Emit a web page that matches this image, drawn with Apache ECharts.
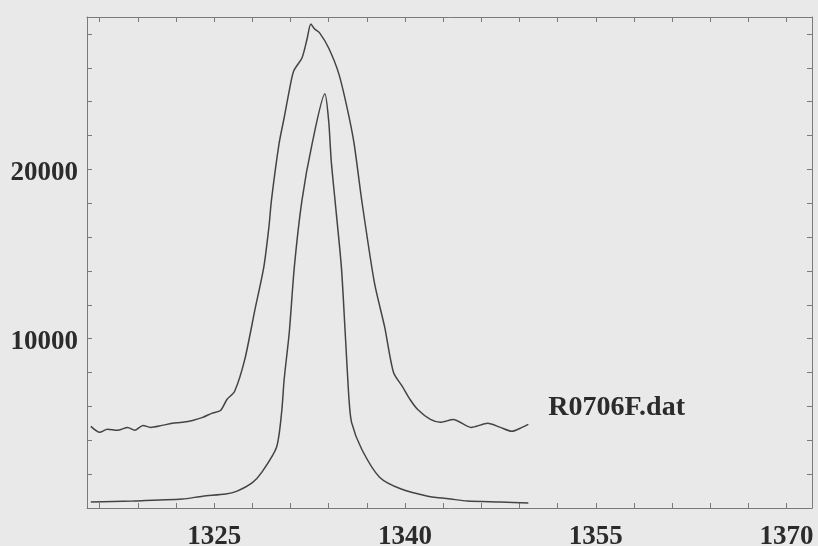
<!DOCTYPE html>
<html>
<head>
<meta charset="utf-8">
<script src="https://cdn.jsdelivr.net/npm/echarts@6/dist/echarts.min.js"></script>
<style>
  html, body { margin: 0; padding: 0; background: #e9e9e9; }
  #chart { width: 818px; height: 546px; }
</style>
</head>
<body>
<div id="chart"></div>
<script>
// broad peak (upper curve, ends with file label)
const broadX = [1315.3, 1316.0, 1316.6, 1317.4, 1318.2, 1318.75, 1319.4, 1320.0, 1320.9, 1321.7,
  1322.5, 1323.3, 1324.1, 1324.8, 1325.5, 1326.0, 1326.6, 1327.4, 1328.2, 1328.9,
  1329.3, 1329.5, 1330.1, 1330.5, 1330.9, 1331.25, 1331.9, 1332.3, 1332.6, 1332.9,
  1333.3, 1334.0, 1334.8, 1335.5, 1336.0, 1336.6, 1337.6, 1338.4, 1339.1, 1339.8,
  1340.4, 1341.0, 1342.0, 1342.8, 1343.8, 1345.2, 1346.5, 1347.5, 1348.4, 1349.2, 1349.7];
const broadY = [4820, 4470, 4650, 4590, 4760, 4590, 4880, 4760, 4880, 5000,
  5060, 5170, 5350, 5590, 5760, 6410, 6880, 8760, 11700, 14230,
  16580, 18170, 21520, 23050, 24640, 25810, 26580, 27700, 28580, 28290,
  28050, 27170, 25640, 23460, 21520, 18170, 13290, 10700, 8000, 7170,
  6410, 5820, 5230, 5060, 5230, 4760, 5000, 4760, 4530, 4760, 4940];

// narrow peak (lower curve)
const narrowX = [1315.3, 1318.6, 1322.5, 1324.1, 1325.9, 1326.8, 1328.0, 1328.75, 1329.9, 1330.3,
  1330.5, 1330.9, 1331.3, 1331.9, 1332.7, 1333.7, 1334.0, 1334.2, 1334.5, 1335.0,
  1335.3, 1335.6, 1335.8, 1336.6, 1338.0, 1339.7, 1341.8, 1343.6, 1344.9, 1347.5, 1349.7];
const narrowY = [350, 410, 530, 700, 820, 1000, 1500, 2120, 3590, 5640,
  7590, 10350, 14230, 18170, 21520, 24460, 22870, 20520, 18170, 14230,
  10350, 6410, 5060, 3470, 1820, 1120, 700, 530, 410, 350, 290];

const xLabels = [1325, 1340, 1355, 1370];
const xTicks = [1316, 1319, 1322, 1325, 1328, 1331, 1334, 1337, 1340, 1343, 1346, 1349,
  1352, 1355, 1358, 1361, 1364, 1367, 1370];
const yLabels = [10000, 20000];
const yTicks = [2000, 4000, 6000, 8000, 10000, 12000, 14000, 16000, 18000, 20000,
  22000, 24000, 26000, 28000];
const fileName = 'R0706F.dat';

const pairs = (xs, ys) => xs.map((x, i) => [x, ys[i]]);

const chart = echarts.init(document.getElementById('chart'));
const lineCol = '#444';
const axisCol = '#7a7a7a';
const font = 'Liberation Serif';
const textStyle = { fontFamily: font, fontWeight: 'bold', fontSize: 27, color: '#2b2b2b' };

const baseX = {
  type: 'value', min: 1315, max: 1372,
  splitLine: { show: false },
  axisLine: { show: true, onZero: false, lineStyle: { color: axisCol, width: 1 } },
};
const baseY = {
  type: 'value', min: 0, max: 29000,
  splitLine: { show: false },
  axisLine: { show: true, onZero: false, lineStyle: { color: axisCol, width: 1 } },
};

chart.setOption({
  backgroundColor: '#e9e9e9',
  animation: false,
  grid: { left: 87, right: 6, top: 17, bottom: 38, outerBoundsMode: 'none', containLabel: false },
  xAxis: [
    Object.assign({}, baseX, {
      position: 'bottom',
      axisTick: { inside: true, length: 5, customValues: xTicks, lineStyle: { color: axisCol } },
      axisLabel: Object.assign({ customValues: xLabels, margin: 16, formatter: v => String(v) }, textStyle)
    }),
    Object.assign({}, baseX, {
      position: 'top',
      axisTick: { inside: true, length: 5, customValues: xTicks, lineStyle: { color: axisCol } },
      axisLabel: { show: false }
    })
  ],
  yAxis: [
    Object.assign({}, baseY, {
      position: 'left',
      axisTick: { inside: true, length: 5, customValues: yTicks, lineStyle: { color: axisCol } },
      axisLabel: Object.assign({
        customValues: yLabels, margin: 9,
        formatter: v => '{a|' + v + '}',
        rich: { a: Object.assign({ padding: [7, 0, 0, 0] }, textStyle) }
      }, textStyle)
    }),
    Object.assign({}, baseY, {
      position: 'right',
      axisTick: { inside: true, length: 5, customValues: yTicks, lineStyle: { color: axisCol } },
      axisLabel: { show: false }
    })
  ],
  series: [
    {
      type: 'line',
      xAxisIndex: 0, yAxisIndex: 0,
      data: pairs(broadX, broadY),
      showSymbol: false,
      smooth: 0.25,
      lineStyle: { color: lineCol, width: 1.5 },
      endLabel: {
        show: true,
        formatter: fileName,
        distance: 20,
        offset: [0, -17],
        fontFamily: font, fontWeight: 'bold', fontSize: 28, color: '#2b2b2b'
      }
    },
    {
      type: 'line',
      xAxisIndex: 0, yAxisIndex: 0,
      data: pairs(narrowX, narrowY),
      showSymbol: false,
      smooth: 0.25,
      lineStyle: { color: lineCol, width: 1.5 }
    }
  ]
});
</script>
</body>
</html>
